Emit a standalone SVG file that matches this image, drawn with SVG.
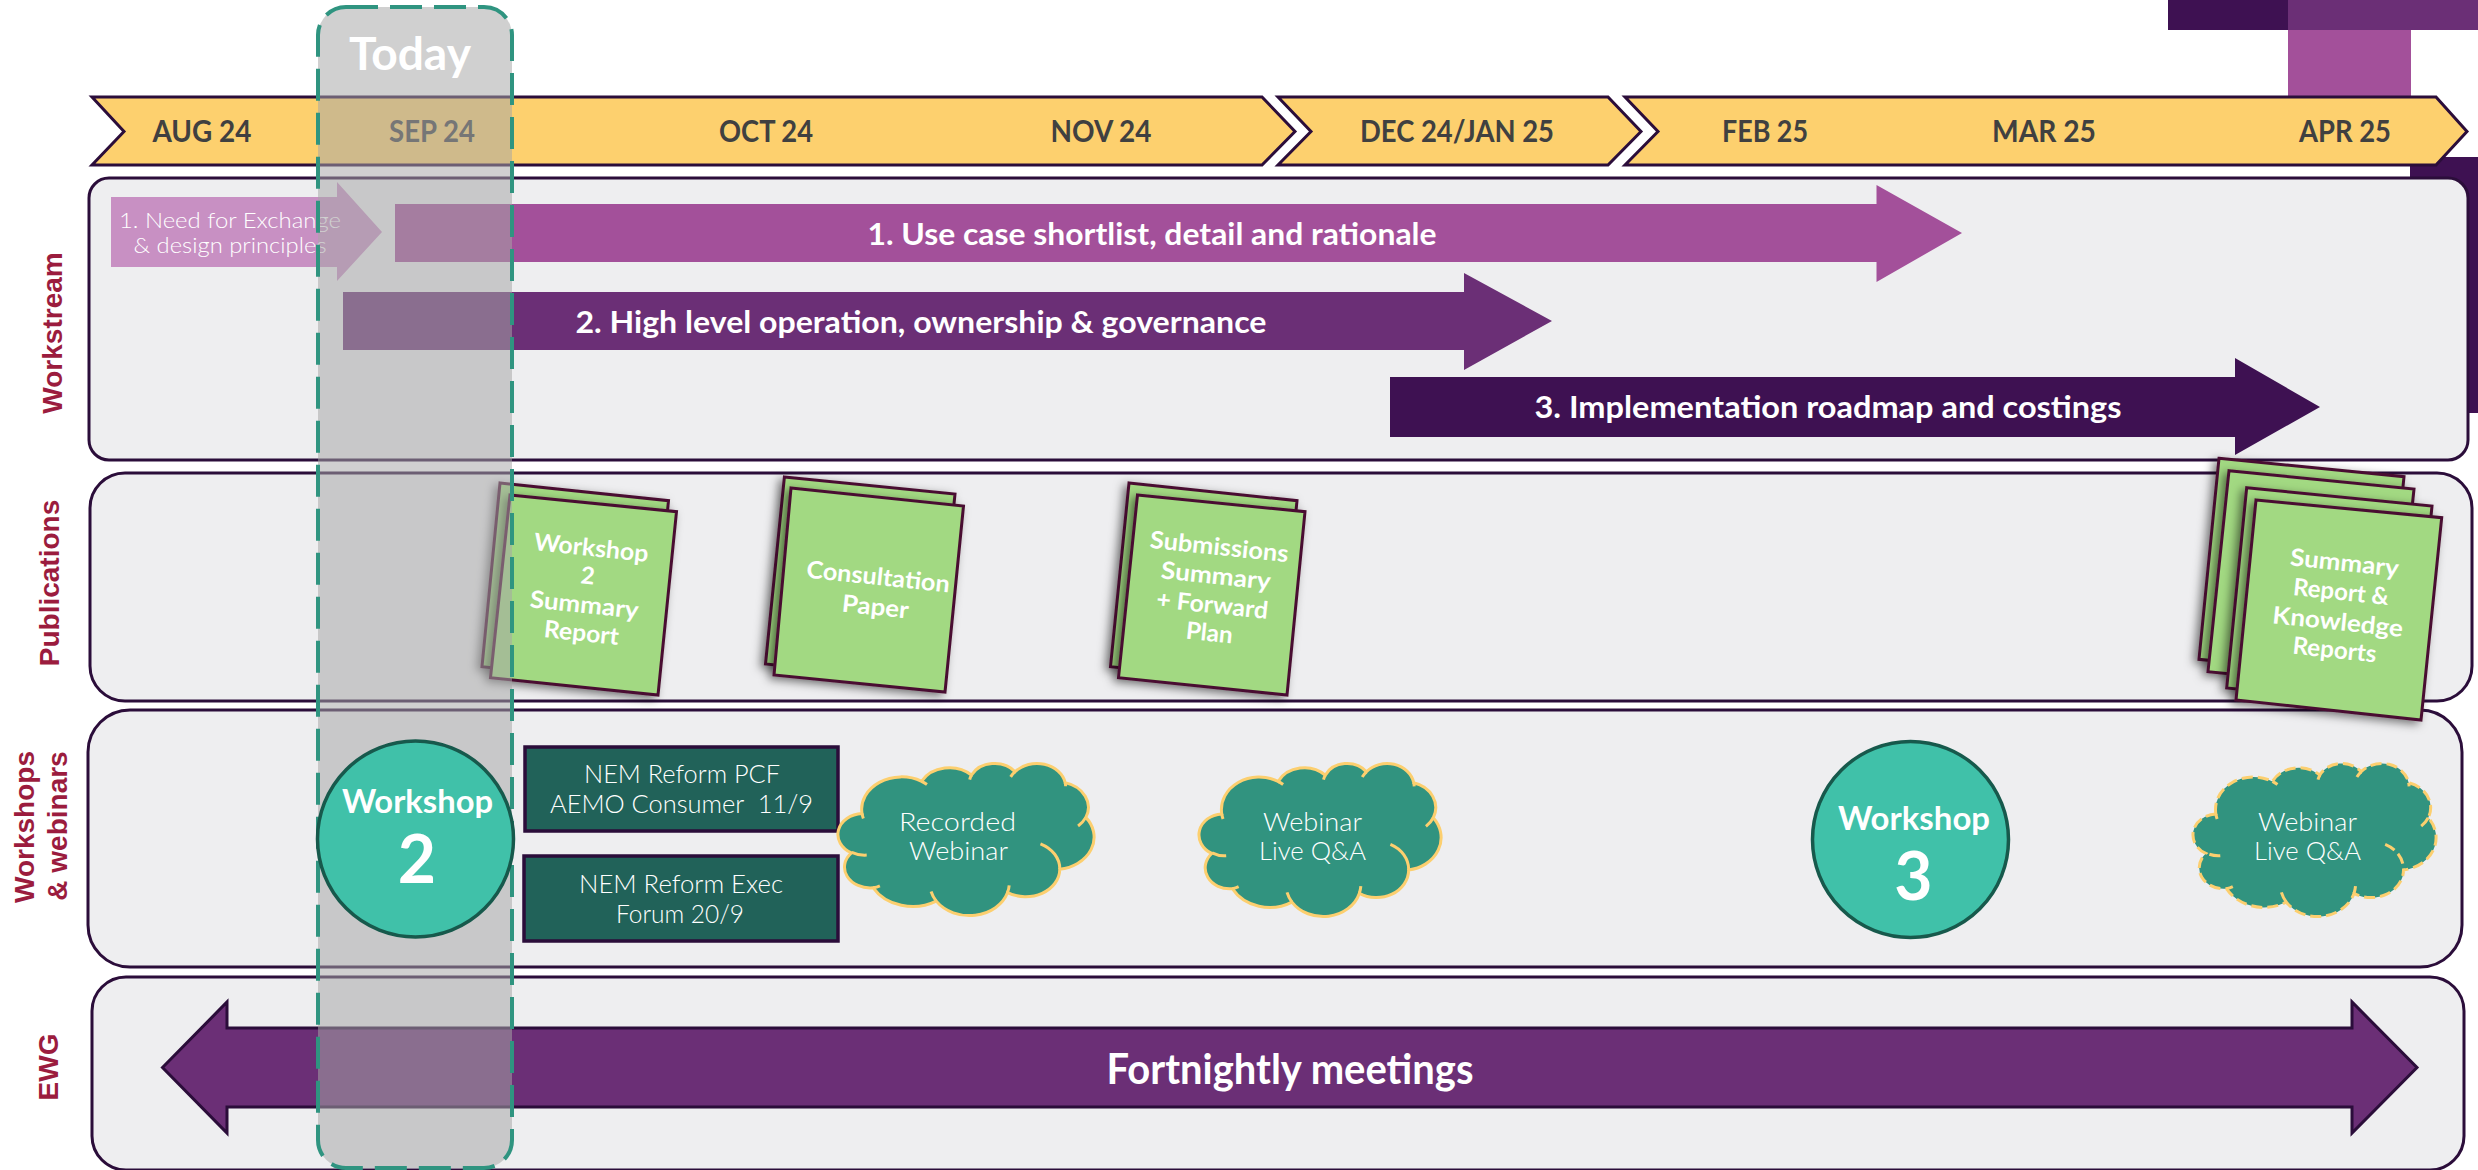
<svg xmlns="http://www.w3.org/2000/svg" width="2478" height="1170" viewBox="0 0 2478 1170">
<style>
.panel{fill:#eeeef0;stroke:#2b0d3a;stroke-width:3}
.chev{fill:#fdd06e;stroke:#2b0d3a;stroke-width:3;stroke-linejoin:miter}
.month{font-family:"Lato","Liberation Sans",sans-serif;font-weight:700;font-size:30px;fill:#404040;text-anchor:middle}
.axis{font-family:"Liberation Sans",Arial,sans-serif;font-weight:700;font-size:28px;fill:#9b1c3e;text-anchor:middle}
.bar{font-family:"Lato","Liberation Sans",sans-serif;font-weight:700;font-size:30px;fill:#fff;text-anchor:middle}
.thin{font-family:"Lato","Liberation Sans",sans-serif;font-weight:300;font-size:25px;fill:#fff;text-anchor:middle}
.small{font-size:22px}
.doc{fill:#a2d982;stroke:#4a1030;stroke-width:3;stroke-linejoin:miter;filter:url(#shade)}
.doct{font-family:"Lato","Liberation Sans",sans-serif;font-weight:700;font-size:24px;fill:#fff;text-anchor:middle}
.box{fill:#216259;stroke:#2b0d3a;stroke-width:3.5}
.circ{fill:#40c1a9;stroke:#17594c;stroke-width:3.5}
.wk{font-family:"Lato","Liberation Sans",sans-serif;font-weight:700;font-size:33px;fill:#fff;text-anchor:middle}
.wkn{font-family:"Lato","Liberation Sans",sans-serif;font-weight:700;font-size:66px;fill:#fff;text-anchor:middle}
.ew{fill:#6b2f76;stroke:#2b0d3a;stroke-width:3}
.vne{vector-effect:non-scaling-stroke}
.cloudf{fill:#31937f;stroke:#fccf6f;stroke-width:3}
.cloudh{fill:none;stroke:#fccf6f;stroke-width:3}
.dash{stroke-dasharray:11 5}
</style>
<defs>
<filter id="shade" x="-20%" y="-20%" width="140%" height="140%">
<feDropShadow dx="-4" dy="3" stdDeviation="5" flood-color="#000" flood-opacity="0.5"/>
</filter>
<path id="cloud-body" class="vne" d="M3900,14370 A6753 9190 0 0 1 14001,5199 A5333 7267 0 0 1 22452,3429 A4365 5945 0 0 1 29829,2480 A4857 6595 0 0 1 38315,5573 A5333 7273 0 0 1 41815,15458 A6775 9220 0 0 1 37402,30202 A5785 7867 0 0 1 28553,36812 A6752 9215 0 0 1 16477,39262 A7720 10543 0 0 1 5799,35469 A4360 5918 0 0 1 2109,25545 A4345 5945 0 0 1 3900,14370 Z"/>
<path id="cloud-hooks" class="vne" d="M4693,26177 A4345 5945 0 0 1 2159,25380 M6928,34899 A4360 5918 0 0 1 5799,35469 M16477,39262 A6752 9215 0 0 1 15600,36530 M28827,34751 A6752 9215 0 0 1 28553,36812 M34129,22954 A5785 7867 0 0 1 37402,30202 M41815,15458 A5333 7273 0 0 1 40500,17900 M38315,5573 A4857 6595 0 0 1 38400,6600 M29078,3952 A4857 6595 0 0 1 29829,2480 M22141,4720 A4365 5945 0 0 1 22452,3429 M14001,5199 A6753 9190 0 0 1 14900,6090 M4127,15789 A6753 9190 0 0 1 3900,14370"/>
</defs>
<rect width="2478" height="1170" fill="#fff"/>

<g id="offcut-shapes">
<rect x="2168" y="0" width="120" height="30" fill="#3e1152"/>
<rect x="2288" y="0" width="190" height="30" fill="#6b2f76"/>
<rect x="2288" y="30" width="123" height="70" fill="#a3509a"/>
<rect x="2410" y="157" width="68" height="256" fill="#3e1152"/>
</g>

<g id="timeline">
<path class="chev" d="M92,97 L1262,97 L1295,131.500 L1262,165 L92,165 L124,131.500 Z"/>
<path class="chev" d="M1278,97 L1608,97 L1641,131.500 L1608,165 L1278,165 L1311,131.500 Z"/>
<path class="chev" d="M1625,97 L2436,97 L2467,131.500 L2436,165 L1625,165 L1658,131.500 Z"/>
<text class="month" x="202" y="142" textLength="99" lengthAdjust="spacingAndGlyphs">AUG 24</text>
<text class="month" x="432" y="142" textLength="86" lengthAdjust="spacingAndGlyphs">SEP 24</text>
<text class="month" x="766" y="142" textLength="94" lengthAdjust="spacingAndGlyphs">OCT 24</text>
<text class="month" x="1101" y="142" textLength="101" lengthAdjust="spacingAndGlyphs">NOV 24</text>
<text class="month" x="1457" y="142" textLength="194" lengthAdjust="spacingAndGlyphs">DEC 24/JAN 25</text>
<text class="month" x="1765" y="142" textLength="86" lengthAdjust="spacingAndGlyphs">FEB 25</text>
<text class="month" x="2044" y="142" textLength="104" lengthAdjust="spacingAndGlyphs">MAR 25</text>
<text class="month" x="2345" y="142" textLength="92" lengthAdjust="spacingAndGlyphs">APR 25</text>
</g>

<g id="panel-workstream">
<rect class="panel" x="89" y="178" width="2379" height="282" rx="20" ry="20"/>
<text class="axis" transform="translate(62,333) rotate(-90)">Workstream</text>
</g>
<g id="panel-publications">
<rect class="panel" x="90" y="473" width="2382" height="228" rx="35" ry="35"/>
<text class="axis" transform="translate(59,583) rotate(-90)">Publications</text>
</g>
<g id="panel-workshops">
<rect class="panel" x="88" y="710" width="2374" height="257" rx="42" ry="42"/>
<text class="axis" transform="translate(34,827) rotate(-90)">Workshops</text>
<text class="axis" transform="translate(67,826) rotate(-90)">&amp; webinars</text>
</g>
<g id="panel-ewg">
<rect class="panel" x="92" y="977" width="2372" height="193" rx="34" ry="34"/>
<text class="axis" transform="translate(58,1067) rotate(-90)">EWG</text>
</g>

<g id="workstream-0">
<polygon fill="#c890c3" points="111,197 337,197 337,182 382,232 337,281 337,267 111,267"/>
<text class="thin small" x="230" y="228" textLength="222" lengthAdjust="spacingAndGlyphs">1. Need for Exchange</text>
<text class="thin small" x="230" y="253" textLength="193" lengthAdjust="spacingAndGlyphs">&amp; design principles</text>
</g>
<g id="workstream-1">
<polygon fill="#a3509a" points="395,204 1876.500,204 1876.500,185 1962,233 1876.500,282 1876.500,262 395,262"/>
<text class="bar" x="1152" y="245" textLength="569" lengthAdjust="spacingAndGlyphs">1. Use case shortlist, detail and rationale</text>
</g>
<g id="workstream-2">
<polygon fill="#6b2f76" points="343,292 1464,292 1464,273 1552,321 1464,370 1464,350 343,350"/>
<text class="bar" x="921" y="333" textLength="691" lengthAdjust="spacingAndGlyphs">2. High level operation, ownership &amp; governance</text>
</g>
<g id="workstream-3">
<polygon fill="#3e1152" points="1390,377 2235,377 2235,358 2320,407 2235,455 2235,437 1390,437"/>
<text class="bar" x="1828" y="418" textLength="587" lengthAdjust="spacingAndGlyphs">3. Implementation roadmap and costings</text>
</g>

<g id="doc-workshop-2">
<polygon class="doc" points="500,483 668.500,500.700 650.500,684.700 482,666.700"/>
<polygon class="doc" points="510,495 676.500,511.700 658,695 490.500,677.700"/>
<text class="doct" transform="translate(590.400,556) rotate(6)" textLength="115" lengthAdjust="spacingAndGlyphs">Workshop</text>
<text class="doct" transform="translate(587,584) rotate(6)">2</text>
<text class="doct" transform="translate(583.500,613) rotate(6)" textLength="109" lengthAdjust="spacingAndGlyphs">Summary</text>
<text class="doct" transform="translate(580.600,641) rotate(6)" textLength="75" lengthAdjust="spacingAndGlyphs">Report</text>
</g>
<g id="doc-consultation">
<polygon class="doc" points="784.400,477 955,494 936,681 765.500,664"/>
<polygon class="doc" points="791,488 963.500,506 945,692 774,675"/>
<text class="doct" transform="translate(877.400,585) rotate(6)" textLength="144" lengthAdjust="spacingAndGlyphs">Consultation</text>
<text class="doct" transform="translate(874.600,615) rotate(6)" textLength="67" lengthAdjust="spacingAndGlyphs">Paper</text>
</g>
<g id="doc-submissions">
<polygon class="doc" points="1129,483 1297,500.700 1279,684 1110.500,666.700"/>
<polygon class="doc" points="1137.500,495 1305,511.700 1287,695 1118.500,677.700"/>
<text class="doct" transform="translate(1218.400,555) rotate(6)" textLength="139" lengthAdjust="spacingAndGlyphs">Submissions</text>
<text class="doct" transform="translate(1215,584) rotate(6)" textLength="110" lengthAdjust="spacingAndGlyphs">Summary</text>
<text class="doct" transform="translate(1211.500,613) rotate(6)" textLength="112" lengthAdjust="spacingAndGlyphs">+ Forward</text>
<text class="doct" transform="translate(1208.600,641) rotate(6)" textLength="47" lengthAdjust="spacingAndGlyphs">Plan</text>
</g>
<g id="doc-summary-knowledge">
<polygon class="doc" points="2219,458.300 2404,476.700 2384,677.700 2199,659.300"/>
<polygon class="doc" points="2229,470.700 2414,489 2393,690 2208,671.700"/>
<polygon class="doc" points="2246.700,487.700 2432,506 2412,706.300 2226.700,688"/>
<polygon class="doc" points="2256,500 2441.700,517.700 2421,720 2236,700"/>
<text class="doct" transform="translate(2343.700,571) rotate(6)" textLength="109" lengthAdjust="spacingAndGlyphs">Summary</text>
<text class="doct" transform="translate(2340.300,600) rotate(6)" textLength="96" lengthAdjust="spacingAndGlyphs">Report &amp;</text>
<text class="doct" transform="translate(2337,630) rotate(6)" textLength="131" lengthAdjust="spacingAndGlyphs">Knowledge</text>
<text class="doct" transform="translate(2333.700,658) rotate(6)" textLength="84" lengthAdjust="spacingAndGlyphs">Reports</text>
</g>

<g id="box-pcf">
<rect class="box" x="525" y="747" width="313" height="84"/>
<text class="thin" x="682" y="783" textLength="196" lengthAdjust="spacingAndGlyphs">NEM Reform PCF</text>
<text class="thin" x="681.500" y="813" textLength="263" lengthAdjust="spacingAndGlyphs" xml:space="preserve">AEMO Consumer  11/9</text>
</g>
<g id="box-exec">
<rect class="box" x="524" y="856" width="314" height="85"/>
<text class="thin" x="681" y="893" textLength="204" lengthAdjust="spacingAndGlyphs">NEM Reform Exec</text>
<text class="thin" x="680" y="923" textLength="128" lengthAdjust="spacingAndGlyphs">Forum 20/9</text>
</g>

<g id="cloud-recorded">
<use href="#cloud-body" class="cloudf" transform="translate(839,763) scale(0.005903,0.003519)"/>
<use href="#cloud-hooks" class="cloudh" transform="translate(839,763) scale(0.005903,0.003519)"/>
<text class="thin" x="957.500" y="831" textLength="117" lengthAdjust="spacingAndGlyphs">Recorded</text>
<text class="thin" x="958.500" y="860" textLength="99" lengthAdjust="spacingAndGlyphs">Webinar</text>
</g>
<g id="cloud-live-1">
<use href="#cloud-body" class="cloudf" transform="translate(1200,763) scale(0.005579,0.003542)"/>
<use href="#cloud-hooks" class="cloudh" transform="translate(1200,763) scale(0.005579,0.003542)"/>
<text class="thin" x="1312.500" y="831" textLength="99" lengthAdjust="spacingAndGlyphs">Webinar</text>
<text class="thin" x="1312.500" y="860" textLength="107" lengthAdjust="spacingAndGlyphs">Live Q&amp;A</text>
</g>
<g id="cloud-live-2">
<use href="#cloud-body" class="cloudf dash" transform="translate(2194,763) scale(0.005602,0.003542)"/>
<use href="#cloud-hooks" class="cloudh dash" transform="translate(2194,763) scale(0.005602,0.003542)"/>
<text class="thin" x="2307.500" y="831" textLength="99" lengthAdjust="spacingAndGlyphs">Webinar</text>
<text class="thin" x="2307.500" y="860" textLength="107" lengthAdjust="spacingAndGlyphs">Live Q&amp;A</text>
</g>

<g id="workshop-3">
<circle class="circ" cx="1910.500" cy="839.500" r="98"/>
<text class="wk" x="1914" y="830" textLength="152" lengthAdjust="spacingAndGlyphs">Workshop</text>
<text class="wkn" x="1913.500" y="900">3</text>
</g>

<g id="ewg-arrow">
<polygon class="ew" points="162.500,1067.500 227,1002 227,1028 2352,1028 2352,1002 2417,1067.500 2352,1133 2352,1107 227,1107 227,1133"/>
<text font-family="Lato, 'Liberation Sans', sans-serif" font-weight="700" font-size="42" fill="#fff" text-anchor="middle" x="1290" y="1084" textLength="367" lengthAdjust="spacingAndGlyphs">Fortnightly meetings</text>
</g>

<g id="today">
<rect x="318" y="7" width="194" height="1161" rx="28" ry="28" fill="#a6a6a6" fill-opacity="0.53" stroke="#2f9480" stroke-width="4" stroke-dasharray="32 12"/>
<text font-family="Lato, 'Liberation Sans', sans-serif" font-weight="700" font-size="46" fill="#fff" text-anchor="middle" x="410" y="70" textLength="122" lengthAdjust="spacingAndGlyphs">Today</text>
</g>

<g id="workshop-2">
<circle class="circ" cx="415.500" cy="839" r="98"/>
<text class="wk" x="417.500" y="813" textLength="151" lengthAdjust="spacingAndGlyphs">Workshop</text>
<text class="wkn" x="417" y="883">2</text>
</g>
</svg>
